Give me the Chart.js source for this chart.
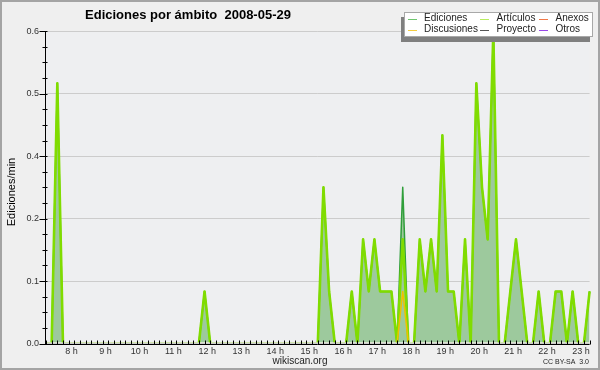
<!DOCTYPE html>
<html><head><meta charset="utf-8">
<script src="https://cdn.jsdelivr.net/npm/chart.js@4/dist/chart.umd.min.js"></script>
<style>html,body{margin:0;padding:0;background:#efefef}#wrap{width:600px;height:370px;position:relative}</style>
</head><body><div id="wrap"><canvas id="c" width="600" height="370"></canvas></div>
<script>
// 10-minute points, 7:15 .. 23:15
const times = [
 '7:15','7:25','7:35','7:45','7:55',
 '8:05','8:15','8:25','8:35','8:45','8:55',
 '9:05','9:15','9:25','9:35','9:45','9:55',
 '10:05','10:15','10:25','10:35','10:45','10:55',
 '11:05','11:15','11:25','11:35','11:45','11:55',
 '12:05','12:15','12:25','12:35','12:45','12:55',
 '13:05','13:15','13:25','13:35','13:45','13:55',
 '14:05','14:15','14:25','14:35','14:45','14:55',
 '15:05','15:15','15:25','15:35','15:45','15:55',
 '16:05','16:15','16:25','16:35','16:45','16:55',
 '17:05','17:15','17:25','17:35','17:45','17:55',
 '18:05','18:15','18:25','18:35','18:45','18:55',
 '19:05','19:15','19:25','19:35','19:45','19:55',
 '20:05','20:15','20:25','20:35','20:45','20:55',
 '21:05','21:15','21:25','21:35','21:45','21:55',
 '22:05','22:15','22:25','22:35','22:45','22:55',
 '23:05','23:15'
];
const ediciones = [
 0,0,0.5,0,0,
 0,0,0,0,0,0,
 0,0,0,0,0,0,
 0,0,0,0,0,0,
 0,0,0,0,0,0.1,
 0,0,0,0,0,0,
 0,0,0,0,0,0,
 0,0,0,0,0,0,
 0,0,0.3,0.1,0,0,
 0,0.1,0,0.2,0.1,0.2,
 0.1,0.1,0.1,0,0.3,0,
 0,0.2,0.1,0.2,0.1,0.4,
 0.1,0.1,0,0.2,0,0.5,
 0.3,0.2,0.6,0,0,0.1,
 0.2,0.1,0,0,0.1,0,
 0,0.1,0.1,0,0.1,0,
 0,0.1
];
const articulos = [
 0,0,0.5,0,0,
 0,0,0,0,0,0,
 0,0,0,0,0,0,
 0,0,0,0,0,0,
 0,0,0,0,0,0.1,
 0,0,0,0,0,0,
 0,0,0,0,0,0,
 0,0,0,0,0,0,
 0,0,0.3,0.1,0,0,
 0,0.1,0,0.2,0.1,0.2,
 0.1,0.1,0.1,0,0.2,0,
 0,0.2,0.1,0.2,0.1,0.4,
 0.1,0.1,0,0.2,0,0.5,
 0.3,0.2,0.6,0,0,0.1,
 0.2,0.1,0,0,0.1,0,
 0,0.1,0.1,0,0.1,0,
 0,0.1
];
const discusiones = [
 0,0,0,0,0,
 0,0,0,0,0,0,
 0,0,0,0,0,0,
 0,0,0,0,0,0,
 0,0,0,0,0,0,
 0,0,0,0,0,0,
 0,0,0,0,0,0,
 0,0,0,0,0,0,
 0,0,0,0,0,0,
 0,0,0,0,0,0,
 0,0,0,0,0.1,0,
 0,0,0,0,0,0,
 0,0,0,0,0,0,
 0,0,0,0,0,0,
 0,0,0,0,0,0,
 0,0,0,0,0,0,
 0,0
];
const anexos = [];
const proyecto = [];
const otros = [];

const hourLabels = ['8 h','9 h','10 h','11 h','12 h','13 h','14 h','15 h','16 h','17 h','18 h','19 h','20 h','21 h','22 h','23 h'];
const yTickValues = [0, 0.12, 0.24, 0.36, 0.48, 0.6];
const yTickLabels = ['0.0','0.1','0.2','0.4','0.5','0.6'];
const chartTitle = 'Ediciones por ámbito  2008-05-29';
const yTitle = 'Ediciones/min';

const FONT = '"Liberation Sans", Arial, sans-serif';

const frame = {
  id: 'frame',
  beforeDraw(chart) {
    const c = chart.ctx, a = chart.chartArea;
    c.save();
    c.fillStyle = '#efefef';
    c.fillRect(0, 0, 600, 370);
    c.fillStyle = '#eeeff1';
    c.fillRect(a.left, a.top, a.right - a.left, a.bottom - a.top);
    c.strokeStyle = '#a4a4a4';
    c.lineWidth = 2;
    c.strokeRect(1, 1, 598, 368);
    c.restore();
  },
  afterDatasetsDraw(chart) {
    const c = chart.ctx, a = chart.chartArea;
    const xs = chart.scales.x, ys = chart.scales.y;
    c.save();
    c.strokeStyle = '#000';
    c.lineWidth = 1;
    c.beginPath();
    const by = Math.round(a.bottom) + 0.5;
    const lx = Math.round(a.left) - 0.5;
    c.moveTo(lx, a.top); c.lineTo(lx, by);
    c.moveTo(lx, by); c.lineTo(a.right, by);
    for (let i = 0; i < times.length; i++) {
      const x = Math.round(xs.getPixelForValue(i)) + 0.5;
      c.moveTo(x, by); c.lineTo(x, by - 4);
    }
    for (let k = 0; k < yTickValues.length; k++) {
      const y = Math.round(ys.getPixelForValue(yTickValues[k])) + 0.5;
      c.moveTo(lx - 6, y); c.lineTo(lx + 2, y);
      if (k < yTickValues.length - 1) {
        const step = (yTickValues[k + 1] - yTickValues[k]) / 4;
        for (let m = 1; m < 4; m++) {
          const ym = Math.round(ys.getPixelForValue(yTickValues[k] + step * m)) + 0.5;
          c.moveTo(lx - 3, ym); c.lineTo(lx + 2, ym);
        }
      }
    }
    c.stroke();
    c.restore();
  },
  afterDraw(chart) {
    const c = chart.ctx, a = chart.chartArea;
    c.save();
    c.fillStyle = '#000';
    c.font = 'bold 13px ' + FONT;
    c.textAlign = 'center';
    c.textBaseline = 'alphabetic';
    c.fillText(chartTitle, 188, 18.5);
    c.save();
    c.translate(15, 192);
    c.rotate(-Math.PI / 2);
    c.font = '11px ' + FONT;
    c.fillStyle = '#000';
    c.textAlign = 'center';
    c.textBaseline = 'alphabetic';
    c.fillText(yTitle, 0, 0);
    c.restore();
    c.fillStyle = '#222';
    c.font = '10px ' + FONT;
    c.textAlign = 'center';
    c.fillText('wikiscan.org', 300, 364);
    c.font = '7px ' + FONT;
    c.textAlign = 'right';
    c.fillText('CC BY-SA  3.0', 589, 364);
    const bx = 404, by = 12, bw = 189, bh = 25;
    c.fillStyle = '#7f7f7f';
    c.fillRect(bx - 3, by + 5, bw, bh);
    c.fillStyle = '#ffffff';
    c.fillRect(bx, by, bw, bh);
    c.strokeStyle = '#a8a8a8';
    c.lineWidth = 1;
    c.strokeRect(bx + 0.5, by + 0.5, bw - 1, bh - 1);
    const lineX = [408, 480, 539];
    const textX = [424, 496.5, 555.5];
    const rowY = [18.5, 29.5];
    const legendOrder = [0, 1, 3, 2, 4, 5];
    c.font = '10px ' + FONT;
    c.textAlign = 'left';
    c.textBaseline = 'middle';
    legendOrder.forEach((di, n) => {
      const ds = chart.data.datasets[di];
      const col = n % 3, row = Math.floor(n / 3);
      const y = Math.round(rowY[row]) + 0.5;
      c.strokeStyle = ds.legendColor;
      c.lineWidth = 1;
      c.beginPath();
      c.moveTo(lineX[col], y); c.lineTo(lineX[col] + 9, y);
      c.stroke();
      c.fillStyle = '#222';
      c.fillText(ds.label, textX[col], rowY[row]);
    });
    c.restore();
  }
};

const clipBase = { left: 5, top: 5, right: 5, bottom: -1.2 };

new Chart(document.getElementById('c'), {
  type: 'line',
  data: {
    labels: times,
    datasets: [
      { label: 'Ediciones', data: ediciones, borderColor: '#2f9e3a', borderWidth: 1.5,
        backgroundColor: '#9dc99d', fill: 'origin', order: 5, legendColor: '#6fc66f', clip: clipBase },
      { label: 'Artículos', data: articulos, borderColor: '#80dc00', borderWidth: 2.6,
        fill: false, order: 2, legendColor: '#b8ec60', clip: clipBase },
      { label: 'Discusiones', data: discusiones, borderColor: '#f0c000', borderWidth: 1.5,
        fill: false, order: 1, legendColor: '#f4cc40', clip: clipBase },
      { label: 'Anexos', data: anexos, borderColor: '#f07040', borderWidth: 1.5,
        fill: false, order: 6, legendColor: '#f07848', clip: clipBase },
      { label: 'Proyecto', data: proyecto, borderColor: '#555555', borderWidth: 1.5,
        fill: false, order: 7, legendColor: '#555555', clip: clipBase },
      { label: 'Otros', data: otros, borderColor: '#9040e0', borderWidth: 1.5,
        fill: false, order: 8, legendColor: '#9848e8', clip: clipBase }
    ]
  },
  options: {
    responsive: false,
    devicePixelRatio: 1,
    animation: false,
    layout: { padding: { left: 0, right: 10.4, top: 31.2, bottom: 0 } },
    elements: { point: { radius: 0 }, line: { tension: 0, borderJoinStyle: 'round' } },
    plugins: { legend: { display: false }, title: { display: false }, tooltip: { enabled: false } },
    scales: {
      x: {
        type: 'category',
        offset: false,
        grid: { display: false, drawTicks: false },
        border: { display: false },
        ticks: {
          autoSkip: false, maxRotation: 0, minRotation: 0,
          padding: 3,
          labelOffset: 2.8,
          color: '#333',
          font: { family: FONT, size: 9 },
          callback: (v, i) => {
            const t = times[i];
            if (t && t.endsWith(':55')) {
              const h = parseInt(t, 10) + 1;
              return hourLabels[h - 8] || '';
            }
            return '';
          }
        },
        afterFit: s => { s.height = 26.5; }
      },
      y: {
        min: 0, max: 0.6,
        afterBuildTicks: s => { s.ticks = yTickValues.map(v => ({ value: v })); },
        grid: { color: '#cccccc', drawTicks: false, lineWidth: 1 },
        border: { display: false },
        ticks: {
          padding: 7,
          color: '#333',
          font: { family: FONT, size: 9 },
          callback: (v, i) => yTickLabels[i]
        },
        afterFit: s => { s.width = 46; }
      }
    }
  },
  plugins: [frame]
});
</script>
</body></html>
